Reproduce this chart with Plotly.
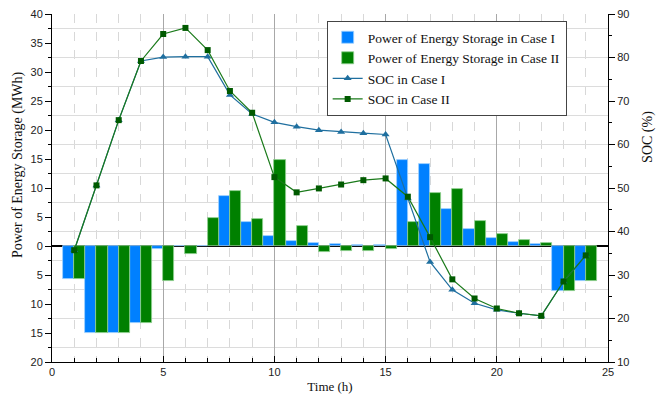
import plotly.graph_objects as go

hours = list(range(1, 25))
power_case1 = [-5.7, -15.0, -15.0, -13.3, -0.6, 0.0, 0.0, 8.6, 4.1, 1.8, 0.9, 0.5,
               0.3, 0.2, 0.15, 14.8, 14.1, 6.4, 2.9, 1.4, 0.7, 0.3, -7.7, -6.0]
power_case2 = [-5.7, -15.0, -15.0, -13.3, -6.1, -1.4, 4.9, 9.4, 4.6, 14.8, 3.4, -1.1,
               -0.9, -0.8, -0.5, 4.1, 9.1, 9.8, 4.3, 2.0, 1.0, 0.5, -7.7, -6.0]
soc_case1 = [35.7, 50.6, 65.6, 79.2, 80.1, 80.2, 80.2, 71.4, 67.0, 65.1, 64.1, 63.3,
             62.9, 62.6, 62.3, 47.6, 33.0, 26.6, 23.5, 22.0, 21.2, 20.6, 28.5, 34.5]
soc_case2 = [35.7, 50.6, 65.6, 79.2, 85.4, 86.8, 81.7, 72.3, 67.3, 52.5, 49.0, 49.9,
             50.8, 51.8, 52.2, 48.0, 38.7, 29.0, 24.6, 22.3, 21.2, 20.6, 28.5, 34.5]

left_tickvals = [-20, -15, -10, -5, 0, 5, 10, 15, 20, 25, 30, 35, 40]
left_ticktext = [str(abs(v)) for v in left_tickvals]

serif = "Times New Roman, Liberation Serif, serif"
sans = "Arial, Liberation Sans, sans-serif"

fig = go.Figure()
fig.add_trace(go.Bar(x=hours, y=power_case1, name="Power of Energy Storage in Case I",
                     marker=dict(color="#0080FF", line=dict(color="#9fd0ff", width=0.8))))
fig.add_trace(go.Bar(x=hours, y=power_case2, name="Power of Energy Storage in Case II",
                     marker=dict(color="#008000", line=dict(color="#90d090", width=0.8))))
fig.add_trace(go.Scatter(x=hours, y=soc_case1, name="SOC in Case I", yaxis="y2",
                         mode="lines+markers",
                         line=dict(color="#1f6f9f", width=1.2),
                         marker=dict(symbol="triangle-up", size=7, color="#1f6f9f")))
fig.add_trace(go.Scatter(x=hours, y=soc_case2, name="SOC in Case II", yaxis="y2",
                         mode="lines+markers",
                         line=dict(color="#1a7a1a", width=1.2),
                         marker=dict(symbol="square", size=6, color="#005a00")))

fig.update_layout(
    width=667, height=396,
    margin=dict(l=52, r=59, t=14, b=34),
    paper_bgcolor="white", plot_bgcolor="white",
    barmode="group", bargap=0, bargroupgap=0,
    font=dict(family=sans, size=11, color="#222"),
    showlegend=True,
    legend=dict(x=0.494, y=0.98, xanchor="left", yanchor="top",
                bgcolor="white", bordercolor="#444", borderwidth=1,
                font=dict(family=serif, size=13.5, color="#111"),
                tracegroupgap=0),
    xaxis=dict(range=[0, 25], tick0=0, dtick=5, showline=True, linecolor="black",
               linewidth=1, ticks="inside", ticklen=6, tickcolor="black",
               showgrid=True, gridcolor="#a8a8a8", gridwidth=1, zeroline=False,
               automargin=False,
               tickfont=dict(family=sans, size=11, color="#222"),
               title=dict(text="Time (h)", font=dict(family=serif, size=13, color="#111"),
                          standoff=4),
               minor=dict(tick0=0, dtick=1, ticks="inside", ticklen=4, tickcolor="black",
                          showgrid=True, gridcolor="#d8d8d8", griddash="dash", gridwidth=1)),
    yaxis=dict(range=[-20, 40], tickvals=left_tickvals, ticktext=left_ticktext,
               showline=True, linecolor="black", linewidth=1, ticks="outside",
               ticklen=6, tickcolor="black", showgrid=False, automargin=False,
               zeroline=True, zerolinecolor="black", zerolinewidth=1.5,
               tickfont=dict(family=sans, size=11, color="#222"),
               minor=dict(tick0=2.5, dtick=5, ticks="outside", ticklen=3, tickcolor="black",
                          showgrid=True, gridcolor="#dcdcdc", gridwidth=1)),
    yaxis2=dict(range=[10, 90], dtick=10, overlaying="y", side="right",
                showline=True, linecolor="black", linewidth=1, ticks="outside",
                ticklen=6, tickcolor="black", showgrid=False, zeroline=False,
                automargin=False,
                tickfont=dict(family=sans, size=11, color="#222"),
                minor=dict(tick0=5, dtick=10, ticks="outside", ticklen=3, tickcolor="black")),
    annotations=[
        dict(text="Power of Energy Storage (MWh)", xref="paper", yref="paper",
             x=-0.061, y=0.566, xanchor="center", yanchor="middle", textangle=-90,
             showarrow=False, font=dict(family=serif, size=14, color="#111")),
        dict(text="SOC (%)", xref="paper", yref="paper",
             x=1.072, y=0.647, xanchor="center", yanchor="middle", textangle=-90,
             showarrow=False, font=dict(family=serif, size=14, color="#111")),
    ],
)

fig.write_html("out.html")
